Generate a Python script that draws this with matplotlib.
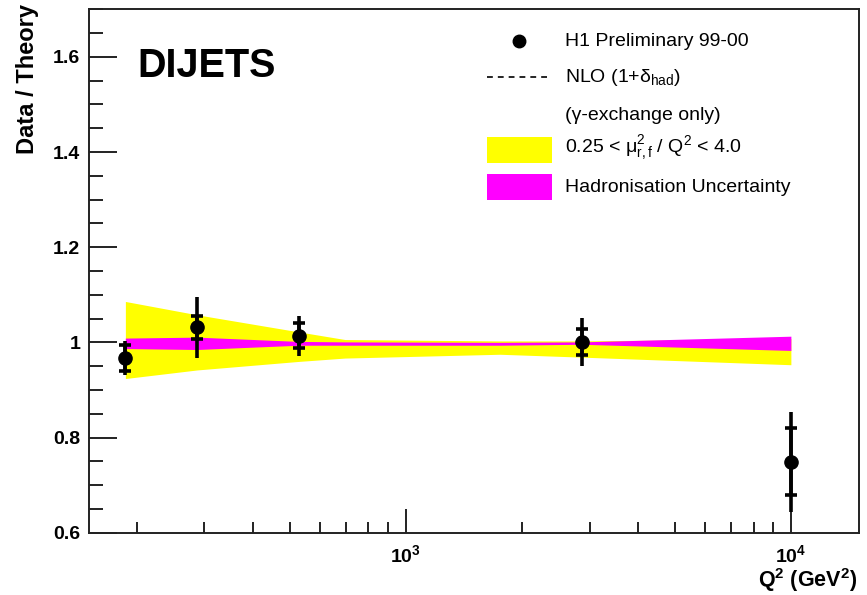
import numpy as np
import matplotlib
matplotlib.use('Agg')
import matplotlib.pyplot as plt
from matplotlib.ticker import FixedLocator, NullFormatter, MultipleLocator

plt.rcParams['font.family'] = ['Liberation Sans', 'DejaVu Sans']
plt.rcParams['mathtext.fontset'] = 'custom'
plt.rcParams['mathtext.rm'] = 'Liberation Sans'
plt.rcParams['mathtext.it'] = 'Liberation Sans'
plt.rcParams['mathtext.bf'] = 'Liberation Sans:bold'

# data points (ratio data / theory)
q2 = [187, 287, 528, 2860, 10000]
ratio = [0.967, 1.032, 1.014, 1.001, 0.749]
err_stat = [0.027, 0.024, 0.026, 0.027, 0.070]
err_tot = [0.035, 0.064, 0.042, 0.050, 0.105]

# theory bands
band_q2 = [187, 287, 528, 695, 1755, 2860, 10000]
scale_up = [1.086, 1.058, 1.022, 1.006, 1.003, 1.003, 1.008]
scale_dn = [0.924, 0.942, 0.960, 0.967, 0.975, 0.969, 0.953]
had_up = [1.009, 1.011, 1.002, 1.001, 1.000, 1.001, 1.013]
had_dn = [0.987, 0.985, 0.994, 0.994, 0.994, 0.996, 0.983]

fig = plt.figure(figsize=(8.67, 5.95), dpi=100)
ax = fig.add_axes([88.5/867, 1-532.7/595, (858.7-88.5)/867, (532.7-9.3)/595])

ax.fill_between(band_q2, scale_dn, scale_up, color='#ffff00', lw=0, zorder=2)
ax.fill_between(band_q2, had_dn, had_up, color='#ff00ff', lw=0, zorder=3)

ax.errorbar(q2, ratio, yerr=err_tot, fmt='none', ecolor='black', elinewidth=2.6,
            capsize=0, zorder=5)
ax.errorbar(q2, ratio, yerr=err_stat, fmt='o', color='black', ms=9.5, elinewidth=2.6,
            capsize=4.3, capthick=2.6, zorder=6)

ax.set_xscale('log')
ax.set_xlim(150, 15000)
ax.set_ylim(0.6, 1.7)

for s in ax.spines.values():
    s.set_linewidth(1.4)
    s.set_color('#222222')

ax.yaxis.set_major_locator(MultipleLocator(0.2))
ax.yaxis.set_minor_locator(MultipleLocator(0.05))
ax.xaxis.set_major_locator(FixedLocator([1e3, 1e4]))
ax.xaxis.set_minor_locator(FixedLocator([m*10**e for e in (2, 3) for m in range(2, 10)]))
ax.xaxis.set_minor_formatter(NullFormatter())
ax.set_xticklabels([r'$\mathbf{10^{3}}$', r'$\mathbf{10^{4}}$'])
ax.set_yticks([0.6, 0.8, 1.0, 1.2, 1.4, 1.6])
ax.set_yticklabels(['0.6', '0.8', '1', '1.2', '1.4', '1.6'])
ax.tick_params(which='both', direction='in', width=1.4, color='#222222',
               labelsize=14, top=False, right=False)
ax.tick_params(axis='y', which='major', length=20, pad=6)
ax.tick_params(axis='y', which='minor', length=10)
ax.tick_params(axis='x', which='major', length=17, pad=8)
ax.tick_params(axis='x', which='minor', length=8)
for lab in ax.get_yticklabels() + ax.get_xticklabels():
    lab.set_fontweight('bold')

fig.text(28/867, 1-4/595, 'Data / Theory', rotation=90, ha='center', va='top',
         fontsize=17, fontweight='bold')
fig.text(857/867, 1-580/595, r'Q$^{\mathbf{2}}$ (GeV$^{\mathbf{2}}$)', ha='right', va='center',
         fontsize=15.5, fontweight='bold')
ax.text(137/867, 1-66/595, 'DIJETS', transform=fig.transFigure, ha='left', va='center',
        fontsize=28.5, fontweight='bold')

# legend drawn in pixel coordinates
lg = fig.add_axes([0, 0, 1, 1], facecolor='none')
lg.set_xlim(0, 867)
lg.set_ylim(595, 0)
lg.axis('off')
lg.plot([519], [41], 'o', color='black', ms=9)
lg.plot([487, 551], [77, 77], ls='--', color='black', lw=1.2, dashes=(3.5, 3))
lg.fill_between([487, 552], 137, 163, color='#ffff00', lw=0)
lg.fill_between([487, 552], 174, 200, color='#ff00ff', lw=0)
tx = 565
fs = 14
lg.text(tx, 42, 'H1 Preliminary 99-00', fontsize=fs, va='center')
lg.text(tx, 78, 'NLO (1+\u03b4$_{\\mathrm{had}}$)', fontsize=fs, va='center')
lg.text(tx, 116, '(\u03b3-exchange only)', fontsize=fs, va='center')
lg.text(tx, 148, '0.25 < \u03bc$^{2}_{\\mathrm{r,f}}$ / Q$^{2}$ < 4.0', fontsize=fs, va='center')
lg.text(tx, 187, 'Hadronisation Uncertainty', fontsize=fs, va='center')

fig.savefig('out.png', dpi=100)
